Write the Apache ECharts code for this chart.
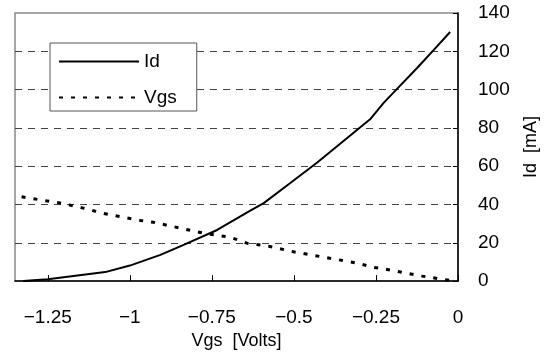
<!DOCTYPE html>
<html>
<head>
<meta charset="utf-8">
<script src="https://cdn.jsdelivr.net/npm/echarts@6/dist/echarts.min.js"></script>
<style>
html,body{margin:0;padding:0;background:#fff;}
#c{width:556px;height:355px;}
</style>
</head>
<body>
<div id="c"></div>
<script>
var idX = [-1.325, -1.25, -1.075, -1.0, -0.907, -0.836, -0.734, -0.633, -0.592, -0.511, -0.429, -0.266, -0.226, -0.185, -0.124, -0.073, -0.024];
var idY = [0, 1, 4.7, 8.1, 13.7, 18.9, 26.7, 36.8, 40.7, 51.2, 61.9, 84.8, 93.2, 100.5, 111.4, 120.9, 130.1];
var vgsX = [-1.33, -1.243, -1.207, -1.126, -1.09, -0.968, -0.928, -0.775, -0.694, -0.643, -0.577, -0.495, -0.419, -0.307, -0.261, -0.226, -0.109, -0.02];
var vgsY = [44, 41.6, 40.6, 37.5, 35.7, 31.7, 30.7, 25, 22.9, 19.8, 18.2, 15.1, 12.8, 9.4, 7.3, 6.4, 2.6, 0.2];
var xTicks = [-1.25, -1, -0.75, -0.5, -0.25, 0];
var xTickLabels = ['\u22121.25', '\u22121', '\u22120.75', '\u22120.5', '\u22120.25', '0'];

function pairs(xs, ys) { return xs.map(function (x, i) { return [x, ys[i]]; }); }

var font = 'Liberation Sans, Arial, sans-serif';
var chart = echarts.init(document.getElementById('c'), null, {renderer: 'canvas'});
chart.setOption({
  animation: false,
  backgroundColor: '#fff',
  grid: {left: 15, top: 13, right: 98, bottom: 73, show: true, borderColor: '#888', borderWidth: 1.5, backgroundColor: 'transparent'},
  legend: {
    show: true,
    left: 50, top: 43, orient: 'vertical',
    backgroundColor: '#fff', borderColor: '#555', borderWidth: 1,
    padding: [9, 20, 4, 8], itemGap: 17, itemWidth: 80, itemHeight: 16,
    itemStyle: {color: 'transparent', borderWidth: 0, opacity: 0},
    textStyle: {fontFamily: font, fontSize: 19, color: '#000', width: 48},
    data: ['Id', 'Vgs']
  },
  xAxis: {
    type: 'value', min: -1.35, max: 0,
    name: 'Vgs  [Volts]', nameLocation: 'middle', nameGap: 50,
    nameTextStyle: {fontFamily: font, fontSize: 18, color: '#000'},
    axisLine: {show: true, onZero: false, lineStyle: {color: '#000', width: 1.5}},
    axisTick: {show: true, inside: true, length: 6, customValues: xTicks, lineStyle: {color: '#000', width: 1}},
    axisLabel: {show: true, customValues: xTicks, margin: 27, fontFamily: font, fontSize: 19, color: '#000',
      formatter: function (v) { var i = xTicks.indexOf(v); return i >= 0 ? xTickLabels[i] : ''; }},
    splitLine: {show: false}
  },
  yAxis: {
    type: 'value', position: 'right', min: 0, max: 140, interval: 20,
    name: 'Id  [mA]', nameLocation: 'middle', nameGap: 64, nameRotate: 90,
    nameTextStyle: {fontFamily: font, fontSize: 18, color: '#000'},
    axisLine: {show: true, lineStyle: {color: '#000', width: 1.5}},
    axisTick: {show: true, inside: true, length: 5, lineStyle: {color: '#000', width: 1}},
    axisLabel: {margin: 20, fontFamily: font, fontSize: 19, color: '#000'},
    splitLine: {show: true, showMinLine: false, showMaxLine: false, lineStyle: {color: '#444', width: 1, type: [7, 6]}}
  },
  series: [
    {name: 'Id', type: 'line', data: pairs(idX, idY), symbol: 'none', smooth: false,
      lineStyle: {color: '#000', width: 2}, itemStyle: {color: '#000'}},
    {name: 'Vgs', type: 'line', data: pairs(vgsX, vgsY), symbol: 'none', smooth: false,
      lineStyle: {color: '#000', width: 3, type: [4, 8]}, itemStyle: {color: '#000'}}
  ]
});
</script>
</body>
</html>
